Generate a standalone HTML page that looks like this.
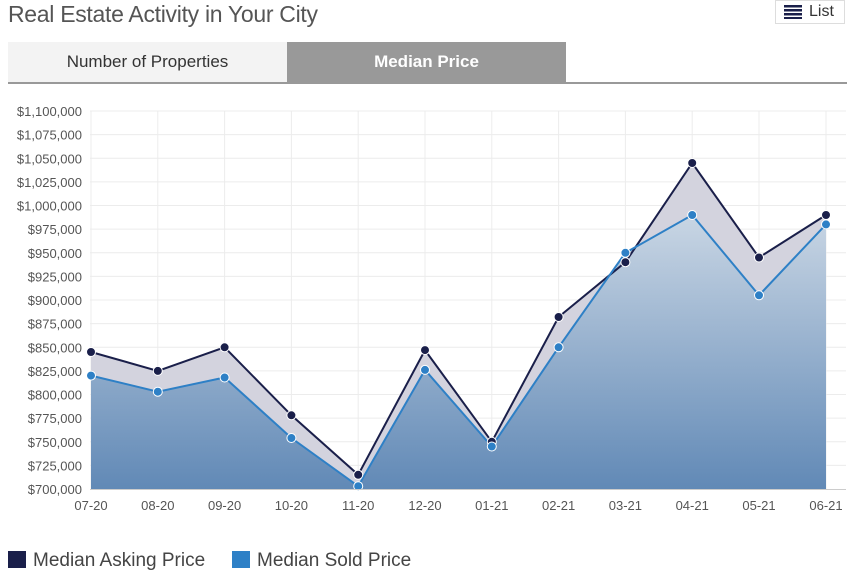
<!DOCTYPE html>
<html><head><meta charset="utf-8"><style>
body{margin:0;width:850px;height:577px;background:#fff;font-family:"Liberation Sans",sans-serif;overflow:hidden;position:relative}
.title{position:absolute;left:8px;top:1px;font-size:23px;color:#555;letter-spacing:-0.3px}
.list{position:absolute;left:775px;top:0;width:68px;height:22px;border:1px solid #ddd;font-size:16px;color:#333;line-height:21px}
.tab{position:absolute;top:42px;height:40px;line-height:40px;text-align:center;font-size:17px}
</style></head><body>
<div class="title">Real Estate Activity in Your City</div>
<div class="list"><span style="position:absolute;left:8px;top:4px;width:18px;height:14px;background:repeating-linear-gradient(#1a1f4a 0 2.5px,#fff 2.5px 4px)"></span><span style="position:absolute;left:33px">List</span></div>
<div class="tab" style="left:8px;width:279px;background:#f3f3f3;color:#333">Number of Properties</div>
<div class="tab" style="left:287px;width:279px;background:#999;color:#fff;font-weight:bold">Median Price</div>
<div style="position:absolute;left:8px;top:82px;width:839px;height:2px;background:#999"></div>
<svg width="850" height="577" style="position:absolute;left:0;top:0">
<defs><linearGradient id="g" x1="0" y1="0" x2="0" y2="1"><stop offset="0" stop-color="#c9d6e4"/><stop offset="1" stop-color="#6189b6"/></linearGradient></defs>
<g stroke="#ececec" stroke-width="1">
<line x1="90" y1="111" x2="846" y2="111"/><line x1="90" y1="134.6" x2="846" y2="134.6"/><line x1="90" y1="158.3" x2="846" y2="158.3"/><line x1="90" y1="181.9" x2="846" y2="181.9"/><line x1="90" y1="205.5" x2="846" y2="205.5"/><line x1="90" y1="229.1" x2="846" y2="229.1"/><line x1="90" y1="252.8" x2="846" y2="252.8"/><line x1="90" y1="276.4" x2="846" y2="276.4"/><line x1="90" y1="300" x2="846" y2="300"/><line x1="90" y1="323.6" x2="846" y2="323.6"/><line x1="90" y1="347.3" x2="846" y2="347.3"/><line x1="90" y1="370.9" x2="846" y2="370.9"/><line x1="90" y1="394.5" x2="846" y2="394.5"/><line x1="90" y1="418.1" x2="846" y2="418.1"/><line x1="90" y1="441.8" x2="846" y2="441.8"/><line x1="90" y1="465.4" x2="846" y2="465.4"/>
<line x1="91" y1="111" x2="91" y2="489"/><line x1="157.8" y1="111" x2="157.8" y2="489"/><line x1="224.6" y1="111" x2="224.6" y2="489"/><line x1="291.4" y1="111" x2="291.4" y2="489"/><line x1="358.2" y1="111" x2="358.2" y2="489"/><line x1="425" y1="111" x2="425" y2="489"/><line x1="491.8" y1="111" x2="491.8" y2="489"/><line x1="558.6" y1="111" x2="558.6" y2="489"/><line x1="625.4" y1="111" x2="625.4" y2="489"/><line x1="692.2" y1="111" x2="692.2" y2="489"/><line x1="759" y1="111" x2="759" y2="489"/><line x1="826" y1="111" x2="826" y2="489"/>
</g>
<polygon fill="#d3d3de" points="91,489 91,352 157.8,370.9 224.6,347.3 291.4,415.3 358.2,474.8 425,350.1 491.8,441.8 558.6,317 625.4,262.2 692.2,163 759,257.5 826,215 826,489"/>
<polygon fill="url(#g)" points="91,489 91,375.6 157.8,391.7 224.6,377.5 291.4,438 358.2,486.2 425,369.9 491.8,446.5 558.6,347.3 625.4,252.8 692.2,215 759,295.3 826,224.4 826,489"/>
<polyline fill="none" stroke="#1a1f4a" stroke-width="2" points="91,352 157.8,370.9 224.6,347.3 291.4,415.3 358.2,474.8 425,350.1 491.8,441.8 558.6,317 625.4,262.2 692.2,163 759,257.5 826,215"/>
<polyline fill="none" stroke="#2e80c6" stroke-width="2" points="91,375.6 157.8,391.7 224.6,377.5 291.4,438 358.2,486.2 425,369.9 491.8,446.5 558.6,347.3 625.4,252.8 692.2,215 759,295.3 826,224.4"/>
<g fill="#1a1f4a" stroke="#fff" stroke-width="1"><circle cx="91" cy="352" r="4.5"/><circle cx="157.8" cy="370.9" r="4.5"/><circle cx="224.6" cy="347.3" r="4.5"/><circle cx="291.4" cy="415.3" r="4.5"/><circle cx="358.2" cy="474.8" r="4.5"/><circle cx="425" cy="350.1" r="4.5"/><circle cx="491.8" cy="441.8" r="4.5"/><circle cx="558.6" cy="317" r="4.5"/><circle cx="625.4" cy="262.2" r="4.5"/><circle cx="692.2" cy="163" r="4.5"/><circle cx="759" cy="257.5" r="4.5"/><circle cx="826" cy="215" r="4.5"/></g>
<g fill="#2e80c6" stroke="#fff" stroke-width="1"><circle cx="91" cy="375.6" r="4.5"/><circle cx="157.8" cy="391.7" r="4.5"/><circle cx="224.6" cy="377.5" r="4.5"/><circle cx="291.4" cy="438" r="4.5"/><circle cx="358.2" cy="486.2" r="4.5"/><circle cx="425" cy="369.9" r="4.5"/><circle cx="491.8" cy="446.5" r="4.5"/><circle cx="558.6" cy="347.3" r="4.5"/><circle cx="625.4" cy="252.8" r="4.5"/><circle cx="692.2" cy="215" r="4.5"/><circle cx="759" cy="295.3" r="4.5"/><circle cx="826" cy="224.4" r="4.5"/></g>
<line x1="90" y1="489.5" x2="846" y2="489.5" stroke="#ccc"/>
<g font-size="13" fill="#555" text-anchor="end" font-family="Liberation Sans,sans-serif">
<text x="82" y="116">$1,100,000</text><text x="82" y="139.6">$1,075,000</text><text x="82" y="163.3">$1,050,000</text><text x="82" y="186.9">$1,025,000</text><text x="82" y="210.5">$1,000,000</text><text x="82" y="234.1">$975,000</text><text x="82" y="257.8">$950,000</text><text x="82" y="281.4">$925,000</text><text x="82" y="305">$900,000</text><text x="82" y="328.6">$875,000</text><text x="82" y="352.3">$850,000</text><text x="82" y="375.9">$825,000</text><text x="82" y="399.5">$800,000</text><text x="82" y="423.1">$775,000</text><text x="82" y="446.8">$750,000</text><text x="82" y="470.4">$725,000</text><text x="82" y="494">$700,000</text>
</g>
<g font-size="13" fill="#555" text-anchor="middle" font-family="Liberation Sans,sans-serif">
<text x="91" y="510">07-20</text><text x="157.8" y="510">08-20</text><text x="224.6" y="510">09-20</text><text x="291.4" y="510">10-20</text><text x="358.2" y="510">11-20</text><text x="425" y="510">12-20</text><text x="491.8" y="510">01-21</text><text x="558.6" y="510">02-21</text><text x="625.4" y="510">03-21</text><text x="692.2" y="510">04-21</text><text x="759" y="510">05-21</text><text x="826" y="510">06-21</text>
</g>
<rect x="8" y="551" width="18" height="17" fill="#1a1f4a"/>
<text x="33" y="566" font-size="19" fill="#444">Median Asking Price</text>
<rect x="232" y="551" width="18" height="17" fill="#2e80c6"/>
<text x="257" y="566" font-size="19" fill="#444">Median Sold Price</text>
</svg>
</body></html>
